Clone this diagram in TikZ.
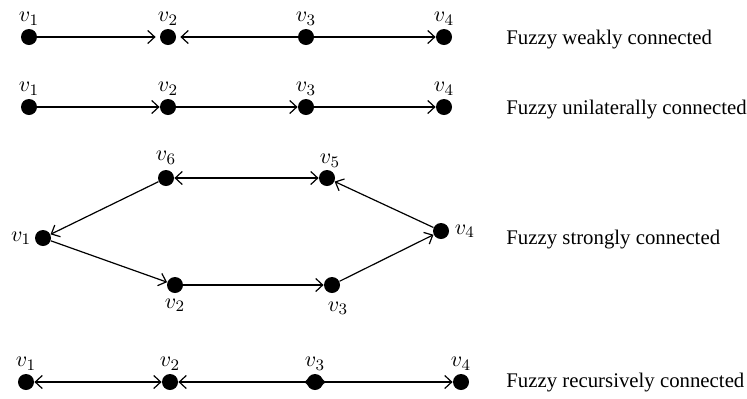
\documentclass[tikz,border=0pt]{standalone}
\usepackage{amssymb,amsmath}
\usepackage{fontspec}
\setmainfont{Liberation Serif}
\usetikzlibrary{arrows.meta}

\tikzset{
    dot/.style={shape=circle, fill=black, inner sep=0pt, minimum size=8pt},
    link/.style={-{Straight Barb[length=3.5pt,width=6.5pt]}, line width=0.6pt},
    twoway/.style={{Straight Barb[length=3.5pt,width=6.5pt]}-{Straight Barb[length=3.5pt,width=6.5pt]}, line width=0.6pt},
    kind/.style={anchor=west, inner sep=0pt, font=\fontsize{10.4}{12}\selectfont},
    every label/.style={font=\fontsize{11}{13}\selectfont, inner sep=1pt},
}

\begin{document}
\begin{tikzpicture}[x=0.5pt, y=-0.5pt, label distance=0.5pt]
    \useasboundingbox (0,0) rectangle (747,398);
    % weakly connected
    \node[dot, label=above:$v_1$] at (29,37) (W1) {};
    \node[dot, label=above:$v_2$] at (168,37) (W2) {};
    \node[dot, label=above:$v_3$] at (306,37) (W3) {};
    \node[dot, label=above:$v_4$] at (444,37) (W4) {};
    \path [link] (W1) edge[shorten >=2pt] (W2);
    \path [link] (W3) edge[shorten >=2pt] (W2);
    \path [link] (W3) edge (W4);
    \node[kind] at (506,40) (TW) {Fuzzy weakly connected};
    % unilaterally connected
    \node[dot, label=above:$v_1$] at (29,107) (U1) {};
    \node[dot, label=above:$v_2$] at (168,107) (U2) {};
    \node[dot, label=above:$v_3$] at (306,107) (U3) {};
    \node[dot, label=above:$v_4$] at (444,107) (U4) {};
    \path [link] (U1) edge (U2);
    \path [link] (U2) edge (U3);
    \path [link] (U3) edge (U4);
    \node[kind] at (506,110) (TU) {Fuzzy unilaterally connected};
    % strongly connected
    \node[dot, label=left:$v_1$] at (43,238) (S1) {};
    \node[dot, label={[label distance=1.5pt]below:$v_2$}] at (175,285) (S2) {};
    \node[dot, label={[xshift=3pt, label distance=3pt]below:$v_3$}] at (332,285) (S3) {};
    \node[dot, label={[xshift=1pt]right:$v_4$}] at (441,231) (S4) {};
    \node[dot, label={[xshift=1.5pt, label distance=0pt]above:$v_5$}] at (327,178) (S5) {};
    \node[dot, label={[label distance=1.5pt]above:$v_6$}] at (166,178) (S6) {};
    \path [link] (S6) edge (S1);
    \path [link] (S1) edge (S2);
    \path [link] (S2) edge (S3);
    \path [link] (S3) edge (S4);
    \path [link] (S4) edge (S5);
    \path [twoway] (S6) edge (S5);
    \node[kind] at (506,240) (TS) {Fuzzy strongly connected};
    % recursively connected
    \node[dot, label=above:$v_1$] at (26,382) (R1) {};
    \node[dot, label=above:$v_2$] at (170,382) (R2) {};
    \node[dot, label=above:$v_3$] at (315,382) (R3) {};
    \node[dot, label=above:$v_4$] at (461,382) (R4) {};
    \path [twoway] (R1) edge (R2);
    \path [twoway] (R2) edge[shorten >=-9.5pt] (R3);
    \path [twoway] (R3) edge[shorten <=-9.5pt] (R4);
    \node[kind] at (506,383) (TR) {Fuzzy recursively connected};
\end{tikzpicture}
\end{document}
